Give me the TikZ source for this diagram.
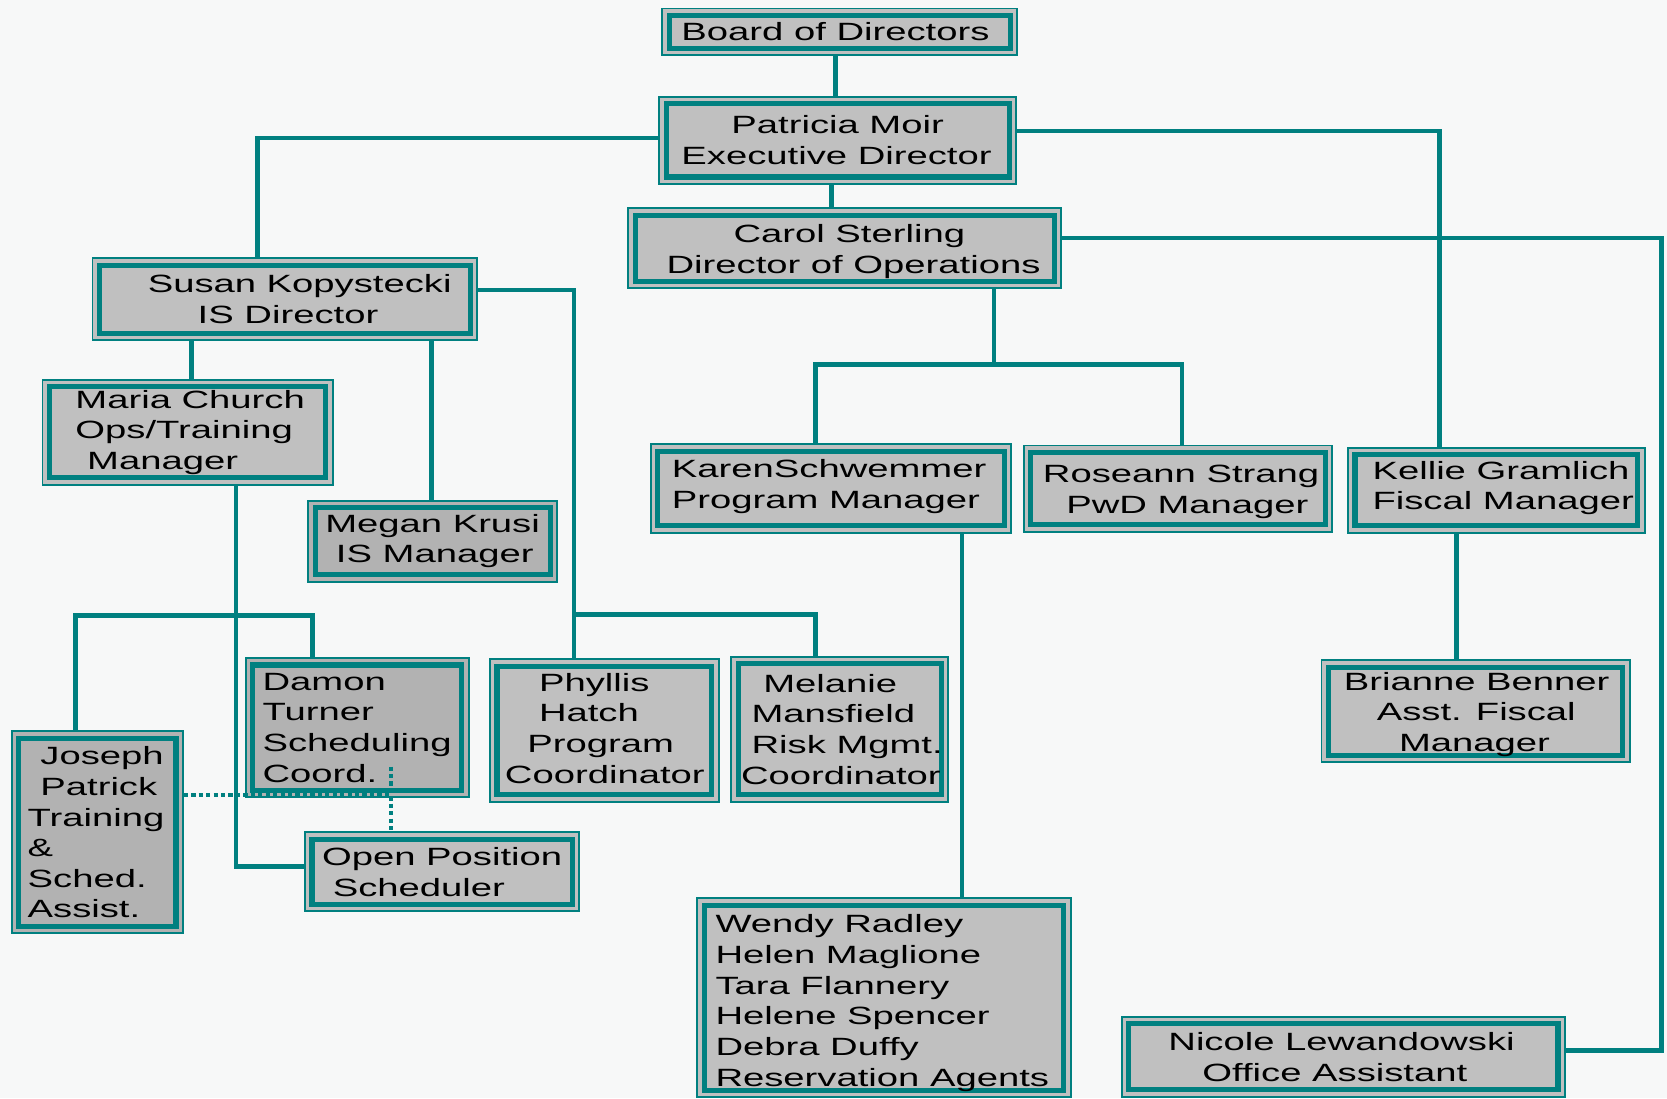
\documentclass[tikz,border=0pt]{standalone}
\usepackage{fontspec}
\setmainfont{Liberation Sans}[FakeStretch=1.53]
\definecolor{orgteal}{RGB}{0,128,128}
\definecolor{boxgray}{RGB}{192,192,192}
\definecolor{boxdark}{RGB}{178,178,178}
\definecolor{bgc}{RGB}{247,248,248}
\pgfdeclarelayer{back}\pgfdeclarelayer{mid}\pgfsetlayers{back,mid,main}
\newcommand\myline[2]{\hbox to \mybw{\hskip#1pt\relax#2\hss}}
\newcommand\mylines[3][0]{\vbox{\def\mybw{#2pt}\vskip#1pt\relax#3}}
\tikzset{
  orgbox/.style={draw=orgteal, line width=1.8pt, fill=boxgray, inner sep=0pt,
    font=\fontsize{23.5pt}{28.8pt}\selectfont,
    path picture={\draw[orgteal, line width=4.8pt]
      ([xshift=6.5pt,yshift=-6.5pt]path picture bounding box.north west) rectangle
      ([xshift=-6.5pt,yshift=6.5pt]path picture bounding box.south east);}},
  darkbox/.style={fill=boxdark},
  conn/.style={draw=orgteal, line width=4.2pt},
  dotconn/.style={draw=orgteal, line width=3.6pt, dash pattern=on 4pt off 3pt}
}
\begin{document}
\begin{tikzpicture}[x=1pt,y=-1pt]
\useasboundingbox (0,0) rectangle (1568,1033);
\begin{pgfonlayer}{back}
\fill[bgc] (0,0) rectangle (1568,1033);
\end{pgfonlayer}

\node[orgbox, minimum width=334pt, minimum height=44pt] (board) at (790,30)
  {\mylines{334}{\myline{18}{Board of Directors}}};
\node[orgbox, minimum width=336pt, minimum height=82pt] (patricia) at (788,132)
  {\mylines{336}{\myline{68}{Patricia Moir}\myline{21}{Executive Director}}};
\node[orgbox, minimum width=407pt, minimum height=75pt] (carol) at (794.5,233.5)
  {\mylines[6]{407}{\myline{99}{Carol Sterling}\myline{36}{Director of Operations}}};
\node[orgbox, minimum width=362pt, minimum height=77pt] (susan) at (268,281.5)
  {\mylines{362}{\myline{52}{Susan Kopystecki}\myline{99}{IS Director}}};
\node[orgbox, minimum width=273pt, minimum height=99pt] (maria) at (176.5,406.5)
  {\mylines{273}{\myline{31}{Maria Church}\myline{31}{Ops/Training}\myline{42}{Manager}}};
\node[orgbox, darkbox, minimum width=234pt, minimum height=76pt] (megan) at (407,509)
  {\mylines{234}{\myline{16}{Megan Krusi}\myline{26}{IS Manager}}};
\node[orgbox, darkbox, minimum width=210pt, minimum height=131pt] (damon) at (336,684.5)
  {\mylines{210}{\myline{16}{Damon}\myline{16}{Turner}\myline{16}{Scheduling}\myline{16}{Coord.}}};
\node[orgbox, darkbox, minimum width=161pt, minimum height=190pt] (joseph) at (91.5,783)
  {\mylines{161}{\myline{27}{Joseph}\myline{27}{Patrick}\myline{15}{Training}\myline{15}{\&}\myline{15}{Sched.}\myline{15}{Assist.}}};
\node[orgbox, minimum width=258pt, minimum height=74pt] (open) at (416,820)
  {\mylines{258}{\myline{16}{Open Position}\myline{26}{Scheduler}}};
\node[orgbox, minimum width=215pt, minimum height=134pt] (phyllis) at (568.5,687)
  {\mylines[-4]{215}{\myline{46}{Phyllis}\myline{46}{Hatch}\myline{35}{Program}\myline{14}{Coordinator}}};
\node[orgbox, minimum width=204pt, minimum height=136pt] (melanie) at (790,686)
  {\mylines{204}{\myline{30}{Melanie}\myline{19}{Mansfield}\myline{19}{Risk Mgmt.}\myline{9}{Coordinator}}};
\node[orgbox, minimum width=339pt, minimum height=83pt] (karen) at (781.5,459.5)
  {\mylines[-4]{339}{\myline{20}{KarenSchwemmer}\myline{20}{Program Manager}}};
\node[orgbox, minimum width=290pt, minimum height=81pt] (roseann) at (1108,459.5)
  {\mylines[6]{290}{\myline{18}{Roseann Strang}\myline{40}{PwD Manager}}};
\node[orgbox, minimum width=279pt, minimum height=80pt] (kellie) at (1407.5,461)
  {\mylines[-4]{279}{\myline{23}{Kellie Gramlich}\myline{23}{Fiscal Manager}}};
\node[orgbox, minimum width=290pt, minimum height=96pt] (brianne) at (1388,669)
  {\mylines[6]{290}{\myline{21}{Brianne Benner}\myline{52}{Asst. Fiscal}\myline{73}{Manager}}};
\node[orgbox, minimum width=351pt, minimum height=187pt] (wendy) at (831.5,938.5)
  {\mylines[10]{351}{\myline{17}{Wendy Radley}\myline{17}{Helen Maglione}\myline{17}{Tara Flannery}\myline{17}{Helene Spencer}\myline{17}{Debra Duffy}\myline{17}{Reservation Agents}}};
\node[orgbox, minimum width=417pt, minimum height=75pt] (nicole) at (1263.5,994)
  {\mylines{417}{\myline{44}{Nicole Lewandowski}\myline{76}{Office Assistant}}};

\coordinate (rightrail) at (1563,600);
\coordinate (opsbus) at (935,343);
\coordinate (coordbus) at (540,578);
\coordinate (schedbus) at (222,579);
\coordinate (dotx) at (368,748);
\coordinate (dottop) at (368,721);

\begin{pgfonlayer}{mid}
\draw[conn] ([xshift=-4pt]board.south) -- ([xshift=-4pt]board.south |- patricia.north);
\draw[conn] ([yshift=2pt]patricia.west) -| ([xshift=-26pt]susan.north);
\draw[conn] ([yshift=9pt]patricia.east) -| ([xshift=-53.5pt]kellie.north);
\draw[conn] ([xshift=-6pt]patricia.south) -- ([xshift=-6pt]patricia.south |- carol.north);
\draw[conn] ([yshift=9.5pt]carol.east) -| (rightrail) |- ([yshift=6pt]nicole.east);
\draw[conn] ([xshift=140.5pt]carol.south) -- (opsbus);
\draw[conn] ([xshift=-14.5pt]karen.north) |- (opsbus) -| ([xshift=4pt]roseann.north);
\draw[conn] ([xshift=3.5pt]maria.north) -- ([xshift=3.5pt]maria.north |- susan.south);
\draw[conn] ([xshift=-1pt]megan.north) -- ([xshift=-1pt]megan.north |- susan.south);
\draw[conn] ([yshift=8.5pt]susan.east) -| ([xshift=-28.5pt]phyllis.north);
\draw[conn] (coordbus) -| ([xshift=-23pt]melanie.north);
\draw[conn] ([xshift=45.5pt]maria.south) |- ([yshift=5pt]open.west);
\draw[conn] ([xshift=-20.5pt]joseph.north) |- (schedbus) -| ([xshift=-42pt]damon.north);
\draw[conn] ([xshift=123.5pt]karen.south) -- ([xshift=123.5pt]karen.south |- wendy.north);
\draw[conn] ([xshift=-37.5pt]kellie.south) -- ([xshift=-37.5pt]kellie.south |- brianne.north);
\end{pgfonlayer}

\draw[dotconn] ([yshift=35pt]joseph.east) -- (dotx);
\draw[dotconn] (dottop) -- (dottop |- open.north);
\end{tikzpicture}
\end{document}
